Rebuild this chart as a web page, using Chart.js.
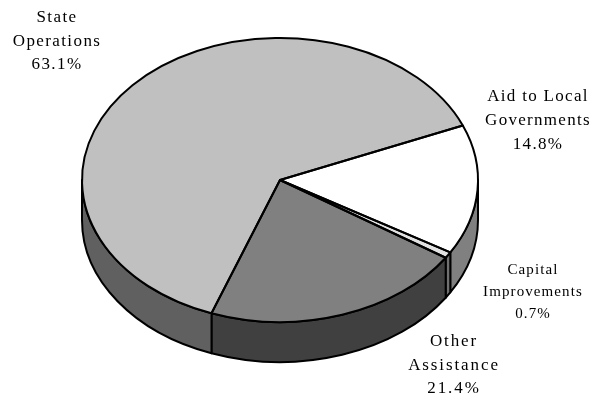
<!DOCTYPE html>
<html>
<head>
<meta charset="utf-8">
<style>html,body{margin:0;padding:0;background:#fff}canvas{display:block}</style>
<script src="https://cdn.jsdelivr.net/npm/chart.js@4"></script>
</head>
<body>
<canvas id="c" width="603" height="396"></canvas>
<script>
const categories = [["Aid to Local","Governments"],["Capital","Improvements"],["Other","Assistance"],["State","Operations"]];
const values = [14.8, 0.7, 21.4, 63.1];
const topColors = ["#ffffff","#e2e2e2","#808080","#c0c0c0"];
const wallColors = ["#808080","#707070","#404040","#606060"];

const ROTATION = 67.4, SQUASH = 142/198, CY = 180, DEPTH = 40;
const labelPlaces = [
  {x:538,y:97,gap:24,size:17,spacing:1.3},
  {x:533,y:270,gap:22,size:15,spacing:1.1},
  {x:454,y:342,gap:23.5,size:17,spacing:1.9},
  {x:57,y:18,gap:23.5,size:17,spacing:1.4}
];

function squash(ctx, arc){
  ctx.translate(0, CY);
  ctx.scale(1, SQUASH);
  ctx.translate(0, -arc.y);
}

const pie3d = {
  id:'pie3d',
  beforeDatasetsDraw(chart){
    const ctx = chart.ctx, arcs = chart.getDatasetMeta(0).data;
    arcs.forEach((arc,i)=>{
      for(const k of [-1,0,1]){
        const off = k*2*Math.PI;
        const a0 = Math.max(arc.startAngle+off, 0), a1 = Math.min(arc.endAngle+off, Math.PI);
        if(a1 <= a0) continue;
        ctx.save();
        squash(ctx, arc);
        ctx.beginPath();
        ctx.arc(arc.x, arc.y, arc.outerRadius, a0, a1);
        ctx.arc(arc.x, arc.y+DEPTH/SQUASH, arc.outerRadius, a1, a0, true);
        ctx.closePath();
        ctx.restore();
        ctx.fillStyle = wallColors[i];
        ctx.strokeStyle = '#000';
        ctx.lineWidth = 2;
        ctx.lineJoin = 'round';
        ctx.fill();
        ctx.stroke();
      }
    });
    ctx.save();
    squash(ctx, arcs[0]);
  },
  afterDatasetsDraw(chart){
    const ctx = chart.ctx, arcs = chart.getDatasetMeta(0).data;
    ctx.restore();
    arcs.forEach(arc=>{
      ctx.save();
      squash(ctx, arc);
      ctx.beginPath();
      ctx.moveTo(arc.x, arc.y);
      ctx.arc(arc.x, arc.y, arc.outerRadius, arc.startAngle, arc.endAngle);
      ctx.closePath();
      ctx.restore();
      ctx.strokeStyle = '#000';
      ctx.lineWidth = 2;
      ctx.lineJoin = 'round';
      ctx.stroke();
    });
    ctx.save();
    ctx.fillStyle = '#000';
    ctx.textAlign = 'center';
    ctx.textBaseline = 'middle';
    categories.forEach((lines,i)=>{
      const p = labelPlaces[i];
      ctx.font = p.size+'px "Liberation Serif"';
      ctx.letterSpacing = p.spacing+'px';
      lines.concat([values[i].toFixed(1)+'%']).forEach((t,j)=>{
        ctx.fillText(t, p.x, p.y+j*p.gap);
      });
    });
    ctx.restore();
  }
};

new Chart(document.getElementById('c'),{
  type:'pie',
  data:{
    labels:categories.map(l=>l.join(' ')),
    datasets:[{data:values, backgroundColor:topColors, borderWidth:0, hoverOffset:0, offset:0}]
  },
  options:{
    responsive:false,
    animation:false,
    rotation:ROTATION,
    layout:{padding:{left:82,right:125,top:0,bottom:0}},
    plugins:{legend:{display:false},tooltip:{enabled:false}},
    events:[]
  },
  plugins:[pie3d]
});
</script>
</body>
</html>
